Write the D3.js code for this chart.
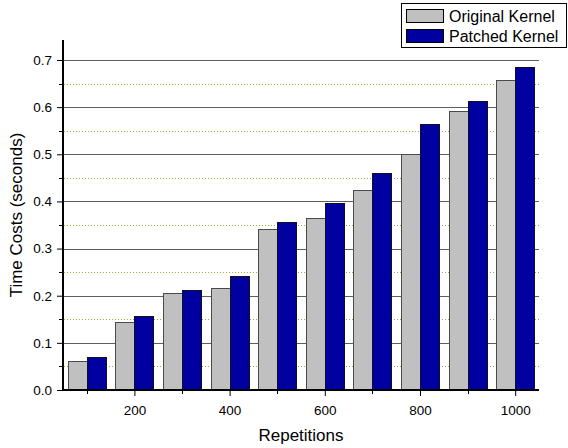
<!DOCTYPE html>
<html>
<head>
<meta charset="utf-8">
<script src="https://cdn.jsdelivr.net/npm/d3@7"></script>
<style>
  html, body { margin: 0; padding: 0; background: #fff; }
  svg { display: block; font-family: "Liberation Sans", Arial, sans-serif; }
</style>
</head>
<body>
<svg id="chart" width="568" height="448"></svg>
<script>
// Repetition counts on the x axis
const repetitions = [100, 200, 300, 400, 500, 600, 700, 800, 900, 1000];
// Time costs in seconds for each kernel
const originalKernel = [0.061, 0.145, 0.205, 0.216, 0.341, 0.365, 0.425, 0.500, 0.592, 0.657];
const patchedKernel  = [0.069, 0.156, 0.213, 0.241, 0.357, 0.397, 0.461, 0.564, 0.612, 0.685];
const seriesNames = ["Original Kernel", "Patched Kernel"];
const seriesColors = ["#c0c0c0", "#0000a0"];
const xTickLabels = [200, 400, 600, 800, 1000];
const yTickLabels = [0.0, 0.1, 0.2, 0.3, 0.4, 0.5, 0.6, 0.7];

const svg = d3.select("#chart");
const plotLeft = 63, plotRight = 539, plotTop = 40, plotBottom = 390;

const x = d3.scaleLinear().domain([50, 1050]).range([plotLeft, plotRight]);
const y = d3.scaleLinear().domain([0, 0.7]).range([plotBottom, 60]);
const barW = 40; // data units per bar

// Grid lines: solid at major values, dotted at the half steps
const minorVals = d3.range(0.05, 0.7, 0.1);
svg.append("g").selectAll("line").data(minorVals).join("line")
  .attr("x1", plotLeft + 1).attr("x2", plotRight)
  .attr("y1", d => Math.round(y(d)) + 0.5).attr("y2", d => Math.round(y(d)) + 0.5)
  .attr("stroke", "#a8a830").attr("stroke-width", 1).attr("stroke-dasharray", "1,2");
svg.append("g").selectAll("line").data(yTickLabels.slice(1)).join("line")
  .attr("x1", plotLeft + 1).attr("x2", plotRight)
  .attr("y1", d => Math.round(y(d)) + 0.5).attr("y2", d => Math.round(y(d)) + 0.5)
  .attr("stroke", "#5e5e5e").attr("stroke-width", 1);

// Bars
const rows = repetitions.map((r, i) => ({ r, vals: [originalKernel[i], patchedKernel[i]] }));
const groups = svg.append("g").selectAll("g").data(rows).join("g");
groups.selectAll("rect").data(d => d.vals.map((v, k) => ({ r: d.r, v, k }))).join("rect")
  .attr("x", d => Math.round(x(d.r - barW + d.k * barW)) + 0.5)
  .attr("width", d => Math.round(x(d.r + d.k * barW)) - Math.round(x(d.r - barW + d.k * barW)))
  .attr("y", d => Math.round(y(d.v)) + 0.5)
  .attr("height", d => plotBottom - Math.round(y(d.v)))
  .attr("fill", d => seriesColors[d.k])
  .attr("stroke", d => d.k === 0 ? "#4a4a4a" : "#101020")
  .attr("stroke-width", 1);

// Y axis
const yAxis = d3.axisLeft(y).tickValues(yTickLabels).tickFormat(d3.format(".1f"))
  .tickSize(6).tickPadding(5);
const gy = svg.append("g").attr("transform", `translate(${plotLeft},0)`).call(yAxis);
gy.select(".domain").remove();
gy.selectAll("text").attr("font-size", 13.5).attr("fill", "#000")
  .attr("font-family", "'Liberation Sans', Arial, sans-serif");
gy.selectAll("line").attr("stroke", "#000");
svg.append("g").selectAll("line").data(minorVals).join("line")
  .attr("x1", plotLeft - 4).attr("x2", plotLeft)
  .attr("y1", d => Math.round(y(d)) + 0.5).attr("y2", d => Math.round(y(d)) + 0.5)
  .attr("stroke", "#000");
svg.append("line").attr("x1", plotLeft).attr("x2", plotLeft).attr("y1", plotTop).attr("y2", plotBottom + 1)
  .attr("stroke", "#000").attr("stroke-width", 2);

// X axis
const xAxis = d3.axisBottom(x).tickValues(xTickLabels).tickFormat(d3.format("d"))
  .tickSize(6).tickPadding(9);
const gx = svg.append("g").attr("transform", `translate(0,${plotBottom})`).call(xAxis);
gx.select(".domain").remove();
gx.selectAll("text").attr("font-size", 13.5).attr("fill", "#000")
  .attr("font-family", "'Liberation Sans', Arial, sans-serif");
gx.selectAll("line").attr("stroke", "#000");
svg.append("g").selectAll("line").data(d3.range(100, 1001, 200)).join("line")
  .attr("x1", d => Math.round(x(d)) + 0.5).attr("x2", d => Math.round(x(d)) + 0.5)
  .attr("y1", plotBottom).attr("y2", plotBottom + 4).attr("stroke", "#000");
svg.append("line").attr("x1", plotLeft - 1).attr("x2", plotRight).attr("y1", plotBottom).attr("y2", plotBottom)
  .attr("stroke", "#000").attr("stroke-width", 2);

// Axis titles
svg.append("text").attr("x", 301).attr("y", 441).attr("text-anchor", "middle")
  .attr("font-size", 17).text("Repetitions");
svg.append("text").attr("transform", "translate(22,215) rotate(-90)")
  .attr("text-anchor", "middle").attr("font-size", 17).text("Time Costs (seconds)");

// Legend
const lg = svg.append("g");
lg.append("rect").attr("x", 401.5).attr("y", 3.5).attr("width", 165).attr("height", 44)
  .attr("fill", "#fff").attr("stroke", "#000");
seriesNames.forEach((name, i) => {
  lg.append("rect").attr("x", 406.5).attr("y", 9.5 + i * 20).attr("width", 37).attr("height", 13)
    .attr("fill", seriesColors[i]).attr("stroke", "#000");
  lg.append("text").attr("x", 449).attr("y", 22 + i * 20).attr("font-size", 16)
    .text(name);
});
</script>
</body>
</html>
